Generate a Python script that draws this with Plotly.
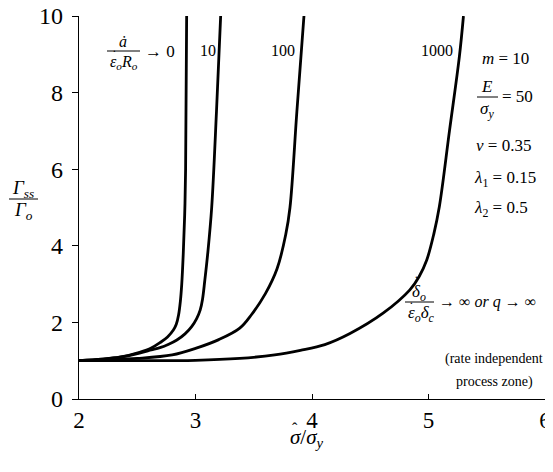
import plotly.graph_objects as go

# ---- data ----
curve_labels = ["0", "10", "100", "1000"]

x_rate0 = [2.0, 2.2, 2.35, 2.52, 2.62, 2.695, 2.76, 2.81, 2.835, 2.855, 2.87, 2.882, 2.895, 2.907, 2.915, 2.924]
y_rate0 = [1.0, 1.04, 1.09, 1.22, 1.33, 1.47, 1.62, 1.80, 1.95, 2.2, 2.55, 3.0, 3.8, 4.8, 6.0, 10.0]

x_rate10 = [2.0, 2.2, 2.35, 2.52, 2.62, 2.695, 2.77, 2.84, 2.91, 2.967, 3.01, 3.04, 3.06, 3.08, 3.105, 3.139, 3.18, 3.216]
y_rate10 = [1.0, 1.04, 1.09, 1.2, 1.28, 1.34, 1.43, 1.54, 1.70, 1.89, 2.1, 2.32, 2.6, 3.1, 3.8, 5.0, 7.5, 10.0]

x_rate100 = [2.0, 2.5, 2.8, 3.0, 3.2, 3.38, 3.48, 3.6, 3.70, 3.775, 3.811, 3.87, 3.931]
y_rate100 = [1.0, 1.06, 1.15, 1.32, 1.55, 1.85, 2.2, 2.75, 3.4, 4.3, 5.0, 7.5, 10.0]

x_rate1000 = [2.0, 2.5, 3.0, 3.38, 3.68, 3.9, 4.11, 4.326, 4.61, 4.84, 4.92, 4.985, 5.045, 5.093, 5.18, 5.265, 5.30]
y_rate1000 = [1.0, 1.0, 1.01, 1.06, 1.15, 1.27, 1.42, 1.71, 2.24, 2.85, 3.2, 3.63, 4.3, 5.02, 7.0, 8.94, 10.0]

x_ticks = [2, 3, 4, 5, 6]
y_ticks = [0, 2, 4, 6, 8, 10]

# page pixel geometry (the page body has an 8px margin)
OFF = 8
W, H = 553, 472 - 2 * OFF - 12
PL, PR, PT, PB = 79, 545, 16, 399  # plot area in page pixels
L, R, T, B = PL - OFF, (W + OFF) - PR, PT - OFF, (H + OFF) - PB
PW, PH = PR - PL, PB - PT


def px(xp):
    return (xp - PL) / PW


def py(yp):
    return (PB - yp) / PH


SERIF = "Liberation Serif"

fig = go.Figure()
for xs, ys in [(x_rate0, y_rate0), (x_rate10, y_rate10), (x_rate100, y_rate100), (x_rate1000, y_rate1000)]:
    fig.add_trace(go.Scatter(x=xs, y=ys, mode="lines",
                             line=dict(color="black", width=2.8, shape="spline", smoothing=1.0),
                             showlegend=False, hoverinfo="skip"))

ann = []


def text(xp, yp, s, size=15, xanchor="center"):
    ann.append(dict(x=px(xp), y=py(yp), xref="paper", yref="paper", text=s, showarrow=False,
                    xanchor=xanchor, yanchor="middle", font=dict(family=SERIF, size=size, color="black")))


shapes = []


def bar(x0, x1, yp):
    shapes.append(dict(type="line", xref="paper", yref="paper", x0=px(x0), x1=px(x1), y0=py(yp), y1=py(yp),
                       line=dict(color="black", width=1)))


DOT = "\u02d9"

# curve labels
text(123, 41, "<i>\u0227</i>", 16)
bar(107, 140, 51)
text(108, 63, "<i>\u03b5<sub>o</sub>R<sub>o</sub></i>", 16, xanchor="left")
text(114, 56, DOT, 14)
text(143, 51, "\u2192 " + curve_labels[0], 17, xanchor="left")
text(208, 50, curve_labels[1], 16)
text(283, 50, curve_labels[2], 16)
text(437, 50, curve_labels[3], 16)

# parameters
text(505, 58, "<i>m</i> = 10", 17)
text(487, 86, "<i>E</i>", 17)
bar(477, 498, 97)
text(487, 110, "<i>\u03c3<sub>y</sub></i>", 17)
text(500, 97, "= 50", 17, xanchor="left")
text(474, 145, "<i>\u03bd</i> = 0.35", 17, xanchor="left")
text(472, 179, "<i>\u03bb</i><sub>1</sub> = 0.15", 17, xanchor="left")
text(472, 209, "<i>\u03bb</i><sub>2</sub> = 0.5", 17, xanchor="left")

# rate independent annotation
text(410, 293, "<i>\u03b4<sub>o</sub></i>", 17, xanchor="left")
text(416, 282, DOT, 14)
bar(405, 434, 302)
text(406, 314, "<i>\u03b5<sub>o</sub>\u03b4<sub>c</sub></i>", 17, xanchor="left")
text(411, 307, DOT, 14)
text(437, 302, "\u2192 \u221e <i>or q</i> \u2192 \u221e", 16, xanchor="left")
text(494, 359, "(rate independent", 14)
text(494, 382, "process zone)", 14)

# y-axis label
text(23, 189, "<i>\u0393<sub>ss</sub></i>", 19)
bar(9, 38, 199)
text(23, 211, "<i>\u0393<sub>o</sub></i>", 19)

# x-axis label
text(288, 438, "<i>\u03c3</i>/<i>\u03c3<sub>y</sub></i>", 21, xanchor="left")
text(295, 428, "\u02c6", 16)

fig.update_layout(
    template="none",
    width=W, height=H,
    margin=dict(l=L, r=R, t=T, b=B, pad=0),
    plot_bgcolor="white", paper_bgcolor="white",
    font=dict(family=SERIF, color="black"),
    annotations=ann, shapes=shapes,
    xaxis=dict(range=[2, 6], tickvals=x_ticks, ticks="inside", ticklen=5, tickwidth=1.2, tickcolor="black",
               showline=True, linecolor="black", linewidth=1.3, showgrid=False, zeroline=False,
               automargin=False, ticklabeloverflow="allow",
               tickfont=dict(family=SERIF, size=23, color="black")),
    yaxis=dict(range=[0, 10], tickvals=y_ticks, ticks="outside", ticklen=6, tickwidth=1.2, tickcolor="black",
               showline=True, linecolor="black", linewidth=1.3, showgrid=False, zeroline=False,
               automargin=False, ticklabeloverflow="allow",
               tickfont=dict(family=SERIF, size=24, color="black"), ticklabelstandoff=4),
)

fig.write_html("out.html")
